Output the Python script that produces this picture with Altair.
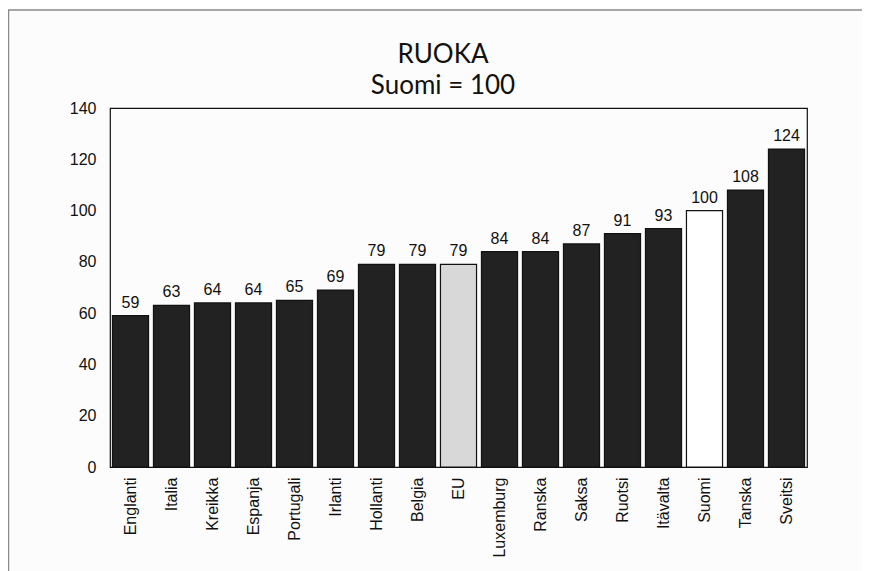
import altair as alt
import pandas as pd

maat = ["Englanti", "Italia", "Kreikka", "Espanja", "Portugali", "Irlanti", "Hollanti",
        "Belgia", "EU", "Luxemburg", "Ranska", "Saksa", "Ruotsi", "Itävalta", "Suomi",
        "Tanska", "Sveitsi"]
arvot = [59, 63, 64, 64, 65, 69, 79, 79, 79, 84, 84, 87, 91, 93, 100, 108, 124]
tyyppi = ["muu"] * 8 + ["EU"] + ["muu"] * 5 + ["Suomi"] + ["muu"] * 2
otsikko = ["RUOKA", "Suomi = 100"]

df = pd.DataFrame({"maa": maat, "arvo": arvot, "tyyppi": tyyppi})
one = pd.DataFrame({"k": [0]})

W, H = 697, 359
PAD = {"left": 102, "top": 100, "right": 55, "bottom": 104}

x = alt.X("maa:N", sort=maat, title=None,
          scale=alt.Scale(paddingInner=0.12, paddingOuter=0.06),
          axis=alt.Axis(labelAngle=-90, labelAlign="right", labelBaseline="middle",
                        labelPadding=10, ticks=False, domain=False,
                        labelFont="Liberation Sans", labelFontSize=16, labelColor="#111"))
y = alt.Y("arvo:Q", title=None,
          scale=alt.Scale(domain=[0, 140], nice=False),
          axis=alt.Axis(values=list(range(0, 141, 20)), ticks=False, domain=False, grid=False,
                        labelPadding=14, labelFont="Liberation Sans", labelFontSize=16,
                        labelColor="#111"))

bars = alt.Chart(df).mark_bar(stroke="#111", strokeWidth=1.2).encode(
    x=x, y=y,
    color=alt.Color("tyyppi:N", legend=None,
                    scale=alt.Scale(domain=["muu", "EU", "Suomi"],
                                    range=["#222222", "#d8d8d8", "#ffffff"])),
)

labels = alt.Chart(df).mark_text(baseline="alphabetic", dy=-8, font="Liberation Sans",
                                 fontSize=16, color="#111").encode(
    x=alt.X("maa:N", sort=maat), y="arvo:Q", text="arvo:Q")

frame = alt.Chart(one).mark_rect(fill=None, stroke="#8a8a8a", strokeWidth=1.5).encode(
    x=alt.value(-101.5), x2=alt.value(800), y=alt.value(-98), y2=alt.value(520))

title1 = alt.Chart(one).mark_text(font="Lato", fontSize=26, color="#111",
                                  baseline="alphabetic", align="center").encode(
    x=alt.value(333), y=alt.value(-45), text=alt.value(otsikko[0]))
title2 = alt.Chart(one).mark_text(font="Lato", fontSize=26, color="#111",
                                  baseline="alphabetic", align="center").encode(
    x=alt.value(333), y=alt.value(-14), text=alt.value(otsikko[1]))

chart = alt.layer(frame, bars, labels, title1, title2).properties(
    width=W, height=H,
    autosize=alt.AutoSizeParams(type="none"),
    padding=PAD,
    background="#fcfcfc",
).configure_view(stroke="#111", strokeWidth=1.2)

chart.save("out.html", embed_options={"renderer": "svg", "actions": False})
